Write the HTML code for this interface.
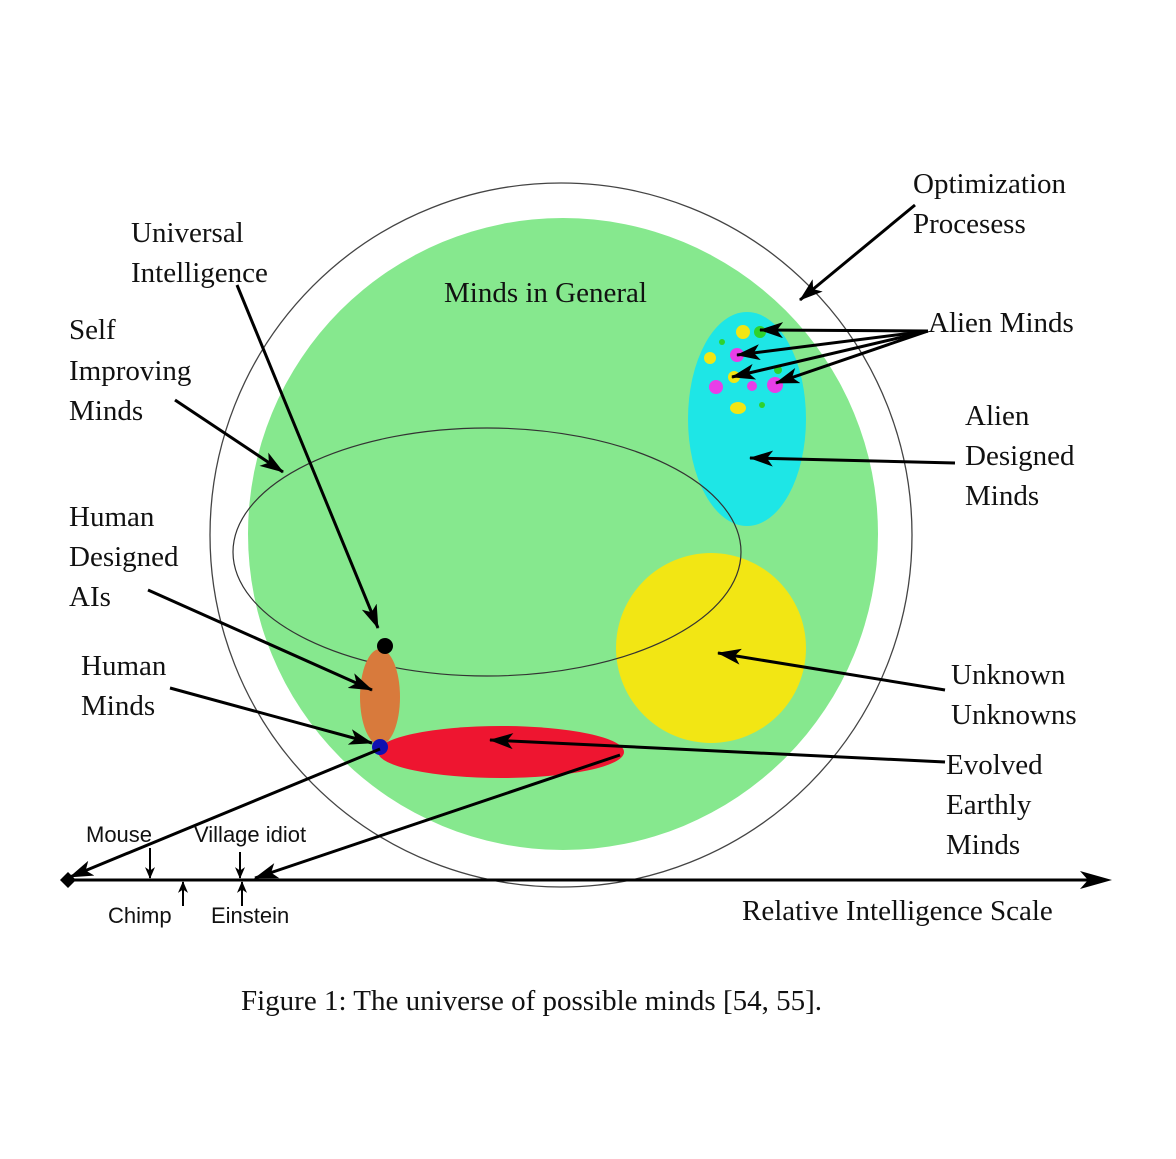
<!DOCTYPE html>
<html><head><meta charset="utf-8"><style>
html,body{margin:0;padding:0;background:#fff}
svg{display:block}
.t{font-family:"Liberation Serif",serif;font-size:29px;fill:#111}
.s{font-family:"Liberation Sans",sans-serif;font-size:22px;fill:#111}
</style></head><body>
<svg width="1176" height="1159" viewBox="0 0 1176 1159" xmlns="http://www.w3.org/2000/svg">
<defs>
<marker id="a" viewBox="0 0 20 14" refX="19" refY="7" markerWidth="9" markerHeight="7" markerUnits="userSpaceOnUse" orient="auto">
</marker>
<marker id="h" viewBox="0 0 24 16" refX="23" refY="8" markerWidth="24" markerHeight="16" markerUnits="userSpaceOnUse" orient="auto">
<path d="M0,0 L24,8 L0,16 L6,8 Z" fill="#000"/>
</marker>
<marker id="hs" viewBox="0 0 14 12" refX="13" refY="6" markerWidth="12" markerHeight="10" markerUnits="userSpaceOnUse" orient="auto">
<path d="M0,0 L14,6 L0,12 L4,6 Z" fill="#000"/>
</marker>
</defs>
<ellipse cx="561" cy="535" rx="351" ry="352" fill="#fff" stroke="#444" stroke-width="1.3"/>
<ellipse cx="563" cy="534" rx="315" ry="316" fill="#86e88e"/>
<ellipse cx="747" cy="419" rx="59" ry="107" fill="#1ee6e6"/>
<circle cx="711" cy="648" r="95" fill="#f2e614"/>
<ellipse cx="487" cy="552" rx="254" ry="124" fill="none" stroke="#333" stroke-width="1.2"/>
<ellipse cx="380" cy="697" rx="20" ry="48" fill="#d87a3c"/>
<ellipse cx="501" cy="752" rx="123" ry="26" fill="#ee1530"/>
<circle cx="385" cy="646" r="8" fill="#000"/>
<circle cx="380" cy="747" r="8" fill="#1010b0"/>
<!-- dots -->
<circle cx="743" cy="332" r="7" fill="#f2e614"/>
<circle cx="710" cy="358" r="6" fill="#f2e614"/>
<circle cx="734" cy="377" r="6" fill="#f2e614"/>
<ellipse cx="738" cy="408" rx="8" ry="6" fill="#f2e614"/>
<circle cx="737" cy="355" r="7" fill="#e83ee8"/>
<circle cx="716" cy="387" r="7" fill="#e83ee8"/>
<circle cx="752" cy="386" r="5" fill="#e83ee8"/>
<circle cx="775" cy="385" r="8" fill="#e83ee8"/>
<circle cx="760" cy="332" r="6" fill="#2ed22e"/>
<circle cx="722" cy="342" r="3" fill="#2ed22e"/>
<circle cx="778" cy="370" r="4" fill="#2ed22e"/>
<circle cx="762" cy="405" r="3" fill="#2ed22e"/>
<!-- arrows -->
<g stroke="#000" stroke-width="3" fill="none" marker-end="url(#h)">
<line x1="915" y1="205" x2="800" y2="300"/>
<line x1="928" y1="331" x2="760" y2="330"/>
<line x1="928" y1="331" x2="737" y2="355"/>
<line x1="928" y1="331" x2="732" y2="377"/>
<line x1="928" y1="331" x2="776" y2="383"/>
<line x1="955" y1="463" x2="750" y2="458"/>
<line x1="175" y1="400" x2="283" y2="472"/>
<line x1="237" y1="285" x2="378" y2="628"/>
<line x1="148" y1="590" x2="372" y2="690"/>
<line x1="170" y1="688" x2="372" y2="743"/>
<line x1="945" y1="690" x2="718" y2="653"/>
<line x1="945" y1="762" x2="490" y2="740"/>
<line x1="380" y1="749" x2="70" y2="877"/>
<line x1="620" y1="755" x2="255" y2="878"/>
</g>
<line x1="68" y1="880" x2="1090" y2="880" stroke="#000" stroke-width="3"/>
<path d="M1080,871 L1112,880 L1080,889 L1088,880 Z" fill="#000"/>
<path d="M68,872 L76,880 L68,888 L60,880 Z" fill="#000"/>
<g stroke="#000" stroke-width="2" fill="none" marker-end="url(#hs)">
<line x1="150" y1="848" x2="150" y2="878"/>
<line x1="240" y1="852" x2="240" y2="878"/>
<line x1="183" y1="906" x2="183" y2="882"/>
<line x1="242" y1="906" x2="242" y2="882"/>
</g>
<!-- text -->
<text class="t" x="913" y="193">Optimization</text>
<text class="t" x="913" y="233">Procesess</text>
<text class="t" x="131" y="242">Universal</text>
<text class="t" x="131" y="282">Intelligence</text>
<text class="t" x="444" y="302">Minds in General</text>
<text class="t" x="928" y="332">Alien Minds</text>
<text class="t" x="69" y="339">Self</text>
<text class="t" x="69" y="380">Improving</text>
<text class="t" x="69" y="420">Minds</text>
<text class="t" x="965" y="425">Alien</text>
<text class="t" x="965" y="465">Designed</text>
<text class="t" x="965" y="505">Minds</text>
<text class="t" x="69" y="526">Human</text>
<text class="t" x="69" y="566">Designed</text>
<text class="t" x="69" y="606">AIs</text>
<text class="t" x="81" y="675">Human</text>
<text class="t" x="81" y="715">Minds</text>
<text class="t" x="951" y="684">Unknown</text>
<text class="t" x="951" y="724">Unknowns</text>
<text class="t" x="946" y="774">Evolved</text>
<text class="t" x="946" y="814">Earthly</text>
<text class="t" x="946" y="854">Minds</text>
<text class="t" x="742" y="920">Relative Intelligence Scale</text>
<text class="s" x="86" y="842">Mouse</text>
<text class="s" x="194" y="842">Village idiot</text>
<text class="s" x="108" y="923">Chimp</text>
<text class="s" x="211" y="923">Einstein</text>
<text class="t" x="241" y="1010">Figure 1: The universe of possible minds [54, 55].</text>
</svg>
</body></html>
